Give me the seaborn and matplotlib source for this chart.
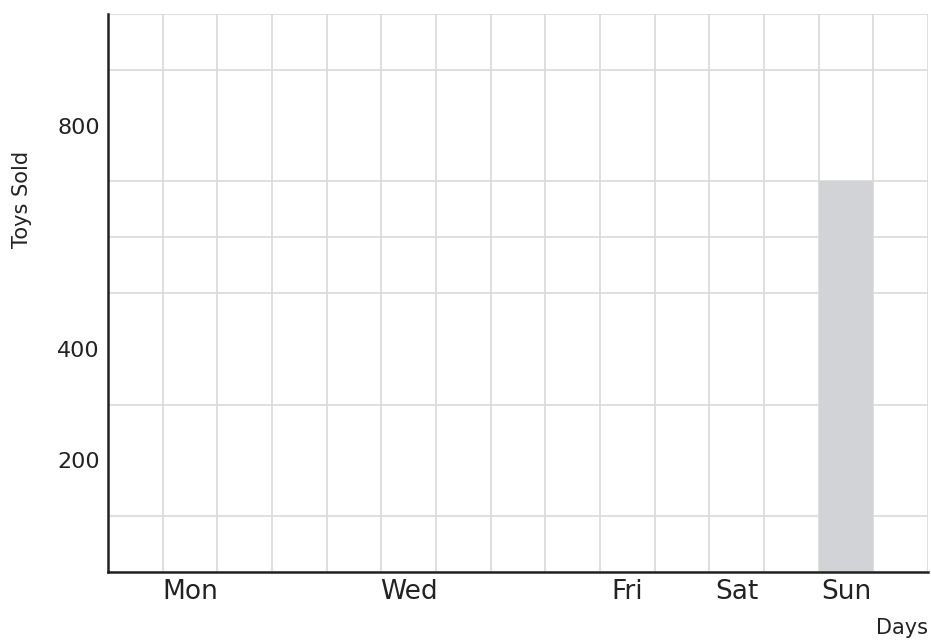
import matplotlib
matplotlib.use("Agg")
import matplotlib.pyplot as plt
import seaborn as sns
import numpy as np
import pandas as pd

days = ["Mon", "Tue", "Wed", "Thu", "Fri", "Sat", "Sun"]
toys_sold = [0, 0, 0, 0, 0, 0, 700]
x_tick_labels = ["Mon", "", "Wed", "", "Fri", "Sat", "Sun"]
y_tick_values = [200, 400, 800]

sns.set_theme(style="white")
plt.rcParams['font.family'] = ['DejaVu Sans']

df = pd.DataFrame({"Days": days, "Toys Sold": toys_sold})

fig = plt.figure(figsize=(9.31, 6.41), dpi=100)
ax = fig.add_axes([108/931, 69/641, 820/931, 558/641])

sns.barplot(data=df, x="Days", y="Toys Sold", order=days, color="#d1d3d6",
            width=0.5, saturation=1, linewidth=0, ax=ax, zorder=3)

ax.set_xlim(-0.75, 6.75)
ax.set_ylim(0, 1000)

ax.set_xticks(range(len(days)))
ax.set_xticklabels(x_tick_labels, fontsize=19, color="#222222")
ax.set_xticks(np.arange(-0.75, 6.76, 0.5), minor=True)
ax.set_yticks(y_tick_values)
ax.set_yticklabels([str(v) for v in y_tick_values], fontsize=16, color="#222222")
ax.set_yticks(np.arange(0, 1001, 100), minor=True)

ax.grid(False, which="major")
ax.grid(True, which="minor", color="#d9d9d9", linewidth=1.2, zorder=0)
ax.set_axisbelow(True)
ax.tick_params(which="both", length=0)
ax.tick_params(axis="x", pad=5)
ax.tick_params(axis="y", pad=6)

for s in ["top", "right"]:
    ax.spines[s].set_visible(False)
for s in ["left", "bottom"]:
    ax.spines[s].set_color("#222222")
    ax.spines[s].set_linewidth(1.8)
    ax.spines[s].set_zorder(4)

ax.set_ylabel("Toys Sold", fontsize=15, color="#222222")
ax.yaxis.set_label_coords(-0.093, 0.667)
ax.set_xlabel("Days", fontsize=15, color="#222222", ha="right")
ax.xaxis.set_label_coords(1.0, -0.082)

fig.savefig("out.png", dpi=100)
